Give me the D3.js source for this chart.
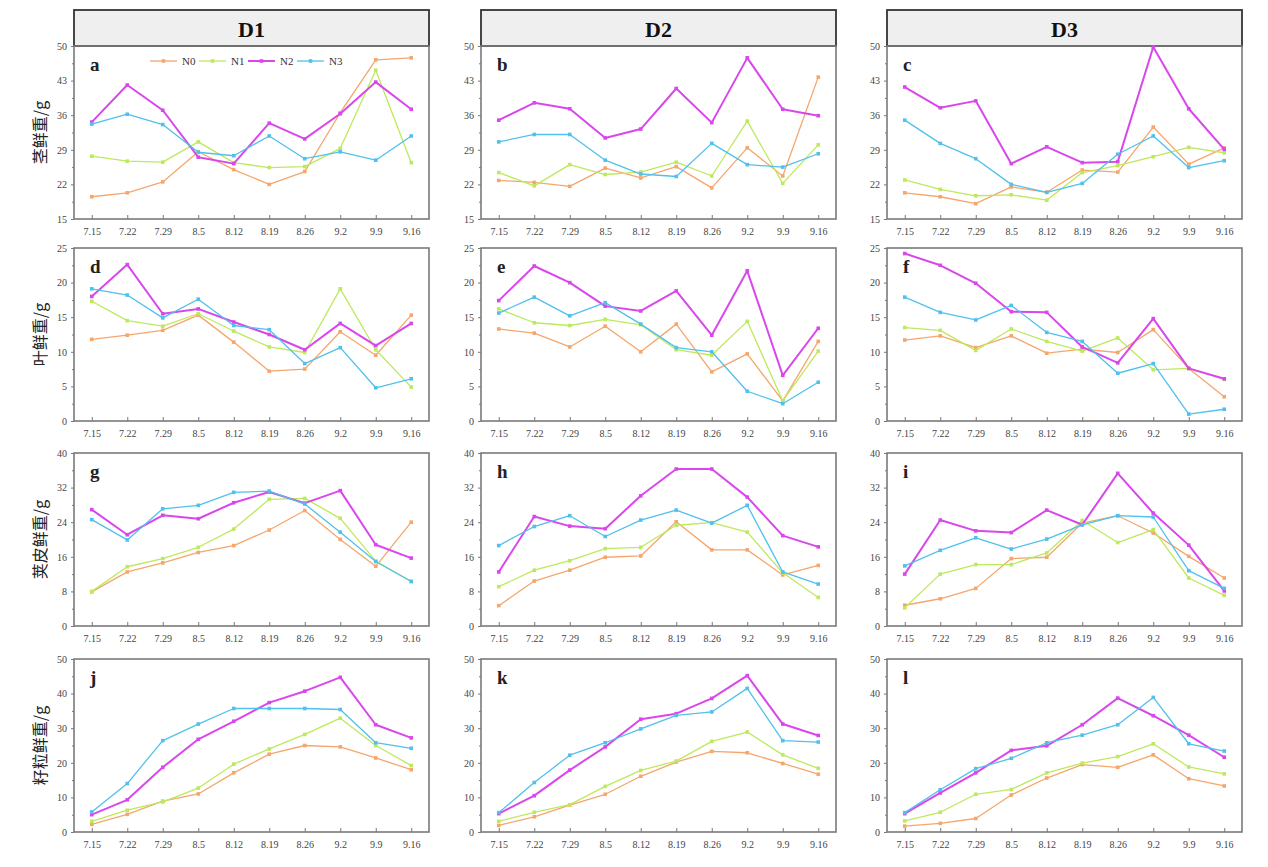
<!DOCTYPE html>
<html>
<head>
<meta charset="utf-8">
<script src="https://cdn.jsdelivr.net/npm/d3@7"></script>
<style>
  body { margin: 0; background: #fff; }
  svg { display: block; }
</style>
</head>
<body>
<div id="chart"></div>
<script>
// categories and labels
const dates = ["7.15", "7.22", "7.29", "8.5", "8.12", "8.19", "8.26", "9.2", "9.9", "9.16"];
const seriesNames = ["N0", "N1", "N2", "N3"];
const groups = ["D1", "D2", "D3"];
const rowLabels = ["茎鲜重/g", "叶鲜重/g", "荚皮鲜重/g", "籽粒鲜重/g"];
const rowTicks = [
  [15, 22, 29, 36, 43, 50],
  [0, 5, 10, 15, 20, 25],
  [0, 8, 16, 24, 32, 40],
  [0, 10, 20, 30, 40, 50]
];
const panelLetters = ["a", "b", "c", "d", "e", "f", "g", "h", "i", "j", "k", "l"];

// values per panel: rows N0, N1, N2, N3
const panelA = [
  [19.5, 20.3, 22.5, 28.6, 25.0, 22.0, 24.6, 36.5, 47.2, 47.6],
  [27.7, 26.7, 26.5, 30.6, 26.4, 25.4, 25.6, 29.3, 45.1, 26.4],
  [34.6, 42.1, 37.0, 27.5, 26.2, 34.4, 31.2, 36.3, 42.7, 37.2],
  [34.2, 36.2, 34.1, 28.5, 27.8, 31.8, 27.2, 28.6, 26.9, 31.8]
];
const panelB = [
  [22.8, 22.4, 21.6, 25.3, 23.3, 25.6, 21.3, 29.4, 23.7, 43.7],
  [24.4, 21.7, 26.0, 24.0, 24.5, 26.5, 23.7, 34.8, 22.2, 30.0],
  [35.0, 38.5, 37.3, 31.4, 33.2, 41.4, 34.5, 47.6, 37.2, 35.9],
  [30.6, 32.1, 32.1, 26.9, 24.1, 23.6, 30.3, 26.0, 25.5, 28.2]
];
const panelC = [
  [20.3, 19.5, 18.1, 21.5, 20.4, 24.9, 24.5, 33.6, 26.1, 29.4],
  [22.9, 21.0, 19.7, 19.9, 18.8, 24.4, 25.8, 27.6, 29.5, 28.4],
  [41.7, 37.5, 38.9, 26.2, 29.6, 26.4, 26.6, 49.8, 37.3, 29.1],
  [35.0, 30.3, 27.2, 22.0, 20.4, 22.2, 28.1, 31.8, 25.4, 26.8]
];
const panelD = [
  [11.8, 12.4, 13.1, 15.3, 11.4, 7.2, 7.5, 12.9, 9.5, 15.3],
  [17.3, 14.5, 13.7, 15.5, 13.0, 10.7, 9.9, 19.1, 10.3, 4.9],
  [18.0, 22.6, 15.5, 16.2, 14.3, 12.5, 10.3, 14.1, 10.9, 14.1],
  [19.1, 18.2, 14.9, 17.6, 13.8, 13.2, 8.3, 10.6, 4.8, 6.1]
];
const panelE = [
  [13.3, 12.7, 10.7, 13.7, 10.0, 14.0, 7.1, 9.7, 2.9, 11.5],
  [16.2, 14.2, 13.8, 14.7, 13.9, 10.3, 9.5, 14.4, 2.9, 10.1],
  [17.4, 22.4, 20.0, 16.6, 15.9, 18.8, 12.4, 21.7, 6.6, 13.4],
  [15.6, 17.9, 15.2, 17.1, 14.0, 10.6, 10.0, 4.3, 2.5, 5.6]
];
const panelF = [
  [11.7, 12.3, 10.6, 12.3, 9.8, 10.4, 9.9, 13.2, 7.6, 3.5],
  [13.5, 13.1, 10.2, 13.3, 11.5, 10.1, 12.0, 7.4, 7.6, 6.0],
  [24.2, 22.5, 19.9, 15.8, 15.7, 10.7, 8.4, 14.8, 7.6, 6.1],
  [17.9, 15.7, 14.6, 16.7, 12.8, 11.5, 6.9, 8.3, 1.0, 1.7]
];
const panelG = [
  [7.9, 12.5, 14.6, 17.0, 18.6, 22.2, 26.7, 20.0, 13.8, 24.0],
  [8.0, 13.7, 15.6, 18.2, 22.4, 29.3, 29.5, 24.9, 15.0, 10.3],
  [26.9, 21.1, 25.6, 24.8, 28.5, 31.0, 28.4, 31.3, 18.8, 15.7],
  [24.6, 19.9, 27.1, 27.9, 30.9, 31.2, 28.2, 21.7, 14.9, 10.3]
];
const panelH = [
  [4.7, 10.4, 12.9, 15.9, 16.2, 24.1, 17.6, 17.6, 11.8, 14.0],
  [9.1, 12.9, 15.1, 17.9, 18.2, 23.3, 23.9, 21.7, 12.3, 6.6],
  [12.5, 25.3, 23.1, 22.5, 30.1, 36.3, 36.3, 29.8, 20.9, 18.3],
  [18.6, 23.0, 25.5, 20.7, 24.5, 26.8, 23.8, 27.9, 12.5, 9.7]
];
const panelI = [
  [4.8, 6.3, 8.7, 15.6, 15.9, 23.8, 25.5, 21.5, 16.1, 11.1],
  [4.2, 12.0, 14.2, 14.2, 16.9, 24.4, 19.3, 22.3, 11.1, 7.1],
  [12.0, 24.5, 22.0, 21.6, 26.8, 23.4, 35.3, 26.1, 18.7, 8.1],
  [13.9, 17.5, 20.4, 17.8, 20.1, 23.4, 25.5, 25.2, 12.8, 8.7]
];
const panelJ = [
  [2.2, 5.1, 8.9, 11.0, 17.1, 22.5, 25.0, 24.6, 21.4, 18.0],
  [3.1, 6.3, 8.7, 12.7, 19.6, 24.0, 28.2, 32.9, 25.0, 19.2],
  [5.0, 9.3, 18.7, 26.8, 32.0, 37.4, 40.7, 44.7, 31.0, 27.2],
  [5.8, 14.0, 26.4, 31.2, 35.7, 35.7, 35.7, 35.4, 25.8, 24.2]
];
const panelK = [
  [1.9, 4.4, 7.8, 10.9, 16.1, 20.2, 23.3, 22.9, 19.8, 16.7],
  [3.1, 5.7, 7.9, 13.2, 17.8, 20.5, 26.2, 28.9, 22.3, 18.4],
  [5.3, 10.5, 17.9, 24.6, 32.6, 34.2, 38.6, 45.2, 31.2, 27.9],
  [5.6, 14.3, 22.2, 25.8, 29.8, 33.7, 34.7, 41.5, 26.4, 26.0]
];
const panelL = [
  [1.7, 2.5, 3.9, 10.7, 15.6, 19.5, 18.7, 22.3, 15.4, 13.3],
  [3.2, 5.7, 10.9, 12.3, 17.1, 19.9, 21.8, 25.5, 18.8, 16.8],
  [5.3, 11.3, 17.1, 23.6, 24.9, 31.0, 38.7, 33.6, 28.0, 21.6],
  [5.6, 12.2, 18.3, 21.3, 25.8, 28.0, 31.0, 38.9, 25.5, 23.4]
];
const panels = [panelA, panelB, panelC, panelD, panelE, panelF, panelG, panelH, panelI, panelJ, panelK, panelL];

// layout
const svgWidth = 1268, svgHeight = 867;
const colLeft = [74, 481, 887];
const rowTop = [46, 248, 453, 659];
const plotW = 355, plotH = 173;
const colors = ["#f5a66c", "#bde95c", "#d947ec", "#4fc1ec"];
const widths = [1.3, 1.3, 2, 1.3];
const numFont = "'Liberation Serif', 'DejaVu Serif', serif";

const svg = d3.select("#chart").append("svg")
  .attr("width", svgWidth)
  .attr("height", svgHeight);

// column headers
groups.forEach((g, c) => {
  svg.append("rect")
    .attr("x", colLeft[c]).attr("y", 10)
    .attr("width", plotW).attr("height", 36)
    .attr("fill", "#efefef")
    .attr("stroke", "#333").attr("stroke-width", 1.8);
  svg.append("text")
    .attr("x", colLeft[c] + plotW / 2).attr("y", 37)
    .attr("text-anchor", "middle")
    .style("font-family", numFont)
    .style("font-weight", "bold")
    .style("font-size", "22px")
    .attr("fill", "#111")
    .text(g);
});

// row labels
rowLabels.forEach((lab, r) => {
  svg.append("text")
    .attr("transform", `translate(40, ${rowTop[r] + plotH / 2}) rotate(-90)`)
    .attr("text-anchor", "middle")
    .attr("dy", "0.35em")
    .style("font-family", "'Noto Sans CJK SC', sans-serif")
    .style("font-size", "16px")
    .attr("fill", "#222")
    .text(lab);
});

panels.forEach((data, i) => {
  let r = Math.floor(i / 3), c = i % 3;
  let ticks = rowTicks[r];
  let step = ticks[1] - ticks[0];

  let g = svg.append("g")
    .attr("transform", `translate(${colLeft[c]}, ${rowTop[r]})`);

  let x = d3.scalePoint().domain(dates).range([0, plotW]).padding(0.5);
  let y = d3.scaleLinear().domain([ticks[0], ticks[ticks.length - 1]]).range([plotH, 0]);

  // x axis with inward ticks
  let xAxis = g.append("g")
    .attr("transform", `translate(0, ${plotH})`)
    .call(d3.axisBottom(x).tickSizeInner(-4).tickSizeOuter(0).tickPadding(9));
  xAxis.select(".domain").remove();

  // y axis, minor ticks between majors
  let minor = d3.range(ticks[0] + step / 2, ticks[ticks.length - 1], step);
  g.append("g")
    .call(d3.axisLeft(y).tickValues(minor).tickSize(2).tickFormat(""))
    .select(".domain").remove();
  let yAxis = g.append("g")
    .call(d3.axisLeft(y).tickValues(ticks).tickSizeInner(3).tickSizeOuter(0).tickPadding(4));
  yAxis.select(".domain").remove();

  g.selectAll(".tick line").attr("stroke", "#777");
  g.selectAll(".tick text")
    .style("font-family", numFont)
    .style("font-size", "10px")
    .attr("fill", "#444");

  // frame
  g.append("rect")
    .attr("width", plotW).attr("height", plotH)
    .attr("fill", "none")
    .attr("stroke", "#7a7a7a").attr("stroke-width", 1.6);

  let line = d3.line()
    .x((d, j) => x(dates[j]))
    .y(d => y(d));

  data.forEach((vals, s) => {
    g.append("path")
      .datum(vals)
      .attr("d", line)
      .attr("fill", "none")
      .attr("stroke", colors[s])
      .attr("stroke-width", widths[s])
      .attr("stroke-linejoin", "round");
    g.selectAll(null)
      .data(vals)
      .enter()
      .append("rect")
      .attr("x", (d, j) => x(dates[j]) - 1.8)
      .attr("y", d => y(d) - 1.8)
      .attr("width", 3.6).attr("height", 3.6)
      .attr("fill", colors[s]);
  });

  // panel letter
  g.append("text")
    .attr("x", 16).attr("y", 25)
    .style("font-family", numFont)
    .style("font-weight", "bold")
    .style("font-size", "19px")
    .attr("fill", "#222")
    .text(panelLetters[i]);

  // legend in the first panel
  if (i === 0) {
    let leg = g.selectAll(".leg")
      .data(seriesNames)
      .enter()
      .append("g")
      .attr("transform", (d, k) => `translate(${76 + k * 49}, 15)`);
    leg.append("line")
      .attr("x1", 0).attr("x2", 27)
      .attr("stroke", (d, k) => colors[k])
      .attr("stroke-width", (d, k) => widths[k]);
    leg.append("rect")
      .attr("x", 11.7).attr("y", -1.8)
      .attr("width", 3.6).attr("height", 3.6)
      .attr("fill", (d, k) => colors[k]);
    leg.append("text")
      .attr("x", 32).attr("dy", "0.35em")
      .style("font-family", numFont)
      .style("font-size", "11px")
      .attr("fill", "#333")
      .text(d => d);
  }
});
</script>
</body>
</html>
